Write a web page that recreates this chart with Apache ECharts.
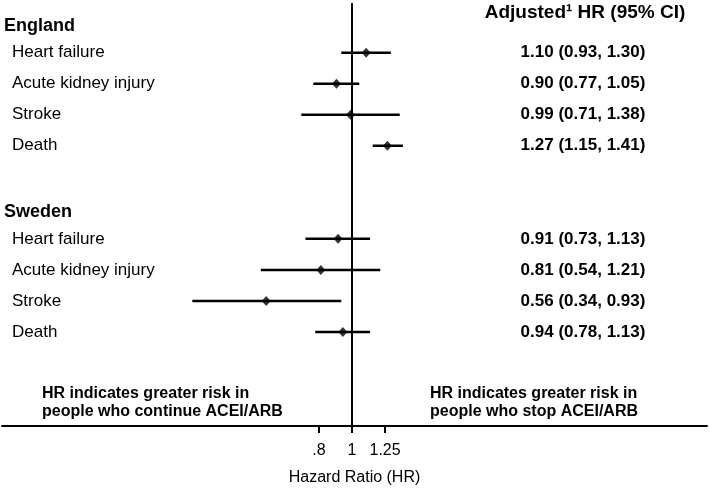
<!DOCTYPE html>
<html>
<head>
<meta charset="utf-8">
<script src="https://cdn.jsdelivr.net/npm/echarts@6/dist/echarts.min.js"></script>
<style>
    html, body { margin: 0; padding: 0; background: #fff; }
    #chart { width: 709px; height: 491px; }
</style>
</head>
<body>
<div id="chart"></div>
<script>
    // 分组与结局
    const groups = ['England', 'Sweden'];
    const outcomes = ['Heart failure', 'Acute kidney injury', 'Stroke', 'Death'];
    // HR 与 95% CI
    const hrEngland = [1.10, 0.90, 0.99, 1.27];
    const lowEngland = [0.93, 0.77, 0.71, 1.15];
    const highEngland = [1.30, 1.05, 1.38, 1.41];
    const hrSweden = [0.91, 0.81, 0.56, 0.94];
    const lowSweden = [0.73, 0.54, 0.34, 0.78];
    const highSweden = [1.13, 1.21, 0.93, 1.13];
    // x轴刻度
    const tickValues = [0.8, 1, 1.25];
    const tickLabels = ['.8', '1', '1.25'];
    const refValue = 1;
    const xMin = 0.094;
    const xMax = 11;
    // 文字
    const colHeader = 'Adjusted¹ HR (95% CI)';
    const noteLeft = 'HR indicates greater risk in\npeople who continue ACEI/ARB';
    const noteRight = 'HR indicates greater risk in\npeople who stop ACEI/ARB';
    const axisTitle = 'Hazard Ratio (HR)';

    const hrAll = [hrEngland, hrSweden];
    const lowAll = [lowEngland, lowSweden];
    const highAll = [highEngland, highSweden];
    const rowsPerGroup = outcomes.length + 2; // 标题行 + 结局 + 空行

    const ciData = [];
    const pointData = [];
    const textRows = [];
    groups.forEach((g, gi) => {
        textRows.push({ row: gi * rowsPerGroup, label: g, value: '', header: true });
        outcomes.forEach((o, oi) => {
            const row = gi * rowsPerGroup + 1 + oi;
            const hr = hrAll[gi][oi], lo = lowAll[gi][oi], hi = highAll[gi][oi];
            ciData.push([lo, hi, row]);
            pointData.push([hr, row]);
            textRows.push({
                row: row,
                label: o,
                value: hr.toFixed(2) + ' (' + lo.toFixed(2) + ', ' + hi.toFixed(2) + ')',
                header: false
            });
        });
    });

    const FONT = '"Liberation Sans", Arial, sans-serif';
    const myChart = echarts.init(document.getElementById('chart'));
    myChart.setOption({
        animation: false,
        grid: { left: 2, right: 2, top: 3, bottom: 61 },
        xAxis: {
            type: 'log',
            position: 'bottom',
            min: xMin,
            max: xMax,
            axisLine: { show: true, onZero: false, lineStyle: { color: '#000', width: 2 } },
            axisTick: {
                show: true,
                customValues: tickValues,
                length: 7,
                lineStyle: { color: '#000', width: 2 }
            },
            axisLabel: {
                customValues: tickValues,
                margin: 17,
                color: '#000',
                fontSize: 16,
                fontFamily: FONT,
                formatter: function (v) {
                    for (let i = 0; i < tickValues.length; i++) {
                        if (Math.abs(tickValues[i] - v) < 1e-6) return tickLabels[i];
                    }
                    return '';
                }
            },
            splitLine: { show: false },
            name: axisTitle,
            nameLocation: 'middle',
            nameGap: 44,
            nameTextStyle: { color: '#000', fontSize: 16, fontFamily: FONT }
        },
        yAxis: {
            type: 'value',
            inverse: true,
            min: -0.6,
            max: 13.03,
            show: false
        },
        graphic: [
            {
                type: 'text', x: 585, y: 13,
                style: { text: colHeader, fontSize: 19, fontWeight: 'bold', fontFamily: FONT, fill: '#000', align: 'center', verticalAlign: 'middle' }
            },
            {
                type: 'text', x: 42, y: 385,
                style: { text: noteLeft, fontSize: 16, fontWeight: 'bold', fontFamily: FONT, fill: '#000', lineHeight: 18 }
            },
            {
                type: 'text', x: 430, y: 385,
                style: { text: noteRight, fontSize: 16, fontWeight: 'bold', fontFamily: FONT, fill: '#000', lineHeight: 18 }
            }
        ],
        series: [
            {
                // 置信区间
                type: 'custom',
                name: 'CI',
                data: ciData,
                encode: { x: [0, 1], y: 2 },
                renderItem: function (params, api) {
                    const p1 = api.coord([api.value(0), api.value(2)]);
                    const p2 = api.coord([api.value(1), api.value(2)]);
                    return {
                        type: 'line',
                        shape: { x1: p1[0], y1: p1[1], x2: p2[0], y2: p2[1] },
                        style: { stroke: '#000', lineWidth: 2.5 }
                    };
                }
            },
            {
                // HR 点
                type: 'scatter',
                name: 'HR',
                data: pointData,
                symbol: 'diamond',
                symbolSize: [9, 10],
                itemStyle: { color: '#000' },
                z: 3,
                markLine: {
                    silent: true,
                    symbol: 'none',
                    label: { show: false },
                    lineStyle: { color: '#000', width: 2, type: 'solid' },
                    data: [{ xAxis: refValue }]
                }
            },
            {
                // 行标签和数值
                type: 'custom',
                name: 'text',
                data: textRows.map(r => [refValue, r.row]),
                encode: { x: 0, y: 1 },
                renderItem: function (params, api) {
                    const r = textRows[params.dataIndex];
                    const y = api.coord([api.value(0), api.value(1)])[1];
                    const children = [];
                    if (r.header) {
                        children.push({
                            type: 'text', x: 4, y: y + 4,
                            style: { text: r.label, fontSize: 18, fontWeight: 'bold', fontFamily: FONT, fill: '#000', verticalAlign: 'middle' }
                        });
                    } else {
                        children.push({
                            type: 'text', x: 12, y: y,
                            style: { text: r.label, fontSize: 17, fontFamily: FONT, fill: '#000', verticalAlign: 'middle' }
                        });
                        children.push({
                            type: 'text', x: 583, y: y,
                            style: { text: r.value, fontSize: 17, fontWeight: 'bold', fontFamily: FONT, fill: '#000', align: 'center', verticalAlign: 'middle' }
                        });
                    }
                    return { type: 'group', children: children };
                }
            }
        ]
    });
    window.addEventListener('resize', () => {
        myChart.resize();
    });
</script>
</body>
</html>
